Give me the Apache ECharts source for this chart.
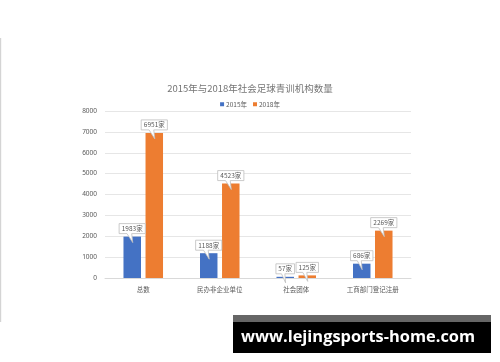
<!DOCTYPE html>
<html><head><meta charset="utf-8">
<script src="https://cdn.jsdelivr.net/npm/echarts@6/dist/echarts.min.js"></script>
<style>html,body{margin:0;padding:0;background:#fff}#c{width:500px;height:362px}</style>
</head><body><div id="c"></div>
<script>
var categories = ['总数', '民办非企业单位', '社会团体', '工商部门登记注册'];
var series2015 = [1983, 1188, 57, 686];
var series2018 = [6951, 4523, 125, 2269];
var seriesNames = ['2015年', '2018年'];
var yTicks = [0, 1000, 2000, 3000, 4000, 5000, 6000, 7000, 8000];
var titleText = '2015年与2018年社会足球青训机构数量';
var watermark = 'www.lejingsports-home.com';

var CALLOUT = 'path://M0 0 L100 0 L100 10 L48 10 L52 19 L30 10 L0 10 Z';
function calloutPoints(vals){
  return vals.map(function(v, i){
    var w = String(v).length * 3.8 + 11;
    return {coord: [i, v], value: v, symbolSize: [w, 19]};
  });
}
function mkSeries(name, vals, color){
  return {
    name: name, type: 'bar', data: vals, barWidth: 17.5, barGap: '26%',
    itemStyle: {color: color},
    markPoint: {
      symbol: CALLOUT, symbolOffset: [0, -3.5], z: 10,
      itemStyle: {color: '#fff', borderColor: '#bfbfbf', borderWidth: 0.8},
      label: {show: true, formatter: '{c}家', color: '#595959', fontSize: 6.5,
        fontFamily: 'Noto Sans CJK SC', offset: [0, -4.5]},
      data: calloutPoints(vals)
    }
  };
}
var chart = echarts.init(document.getElementById('c'));
chart.setOption({
  animation: false,
  backgroundColor: '#fff',
  title: {text: titleText, left: 'center', top: 79,
    textStyle: {fontSize: 9.5, fontWeight: 'normal', color: '#757575', fontFamily: 'Noto Sans CJK SC'}},
  legend: {data: seriesNames, top: 96, left: 'center', itemWidth: 4, itemHeight: 4, itemGap: 6,
    icon: 'rect', textStyle: {fontSize: 6.5, color: '#595959', padding: [0,0,0,-3], fontFamily: 'Noto Sans CJK SC'}},
  grid: {left: 105, right: 89, top: 111, bottom: 84, containLabel: false},
  xAxis: {type: 'category', data: categories,
    axisLine: {lineStyle: {color: '#d9d9d9'}}, axisTick: {show: false},
    axisLabel: {fontSize: 6.5, color: '#595959', margin: 8, fontFamily: 'Noto Sans CJK SC'}},
  yAxis: {type: 'value', min: yTicks[0], max: yTicks[yTicks.length-1], interval: yTicks[1]-yTicks[0],
    axisLine: {show: false}, axisTick: {show: false},
    splitLine: {lineStyle: {color: '#e6e6e6'}},
    axisLabel: {fontSize: 6.5, color: '#595959', margin: 8, fontFamily: 'Noto Sans',
      formatter: function(v){ return String(v); }}},
  series: [mkSeries(seriesNames[0], series2015, '#4472C4'), mkSeries(seriesNames[1], series2018, '#ED7D31')],
  graphic: [
    {type: 'rect', shape: {x: 0, y: 38, width: 1.2, height: 284}, style: {fill: '#d4d4d4'}, silent: true},
    {type: 'rect', shape: {x: 233, y: 315, width: 258, height: 8}, style: {fill: '#666666'}},
    {type: 'rect', shape: {x: 233, y: 322, width: 258, height: 31}, style: {fill: '#000000'}},
    {type: 'text', x: 358, y: 337, style: {text: watermark, fill: '#fff', font: 'bold 16.4px "Open Sans"',
      textAlign: 'center', textVerticalAlign: 'middle'}}
  ]
});
</script></body></html>
